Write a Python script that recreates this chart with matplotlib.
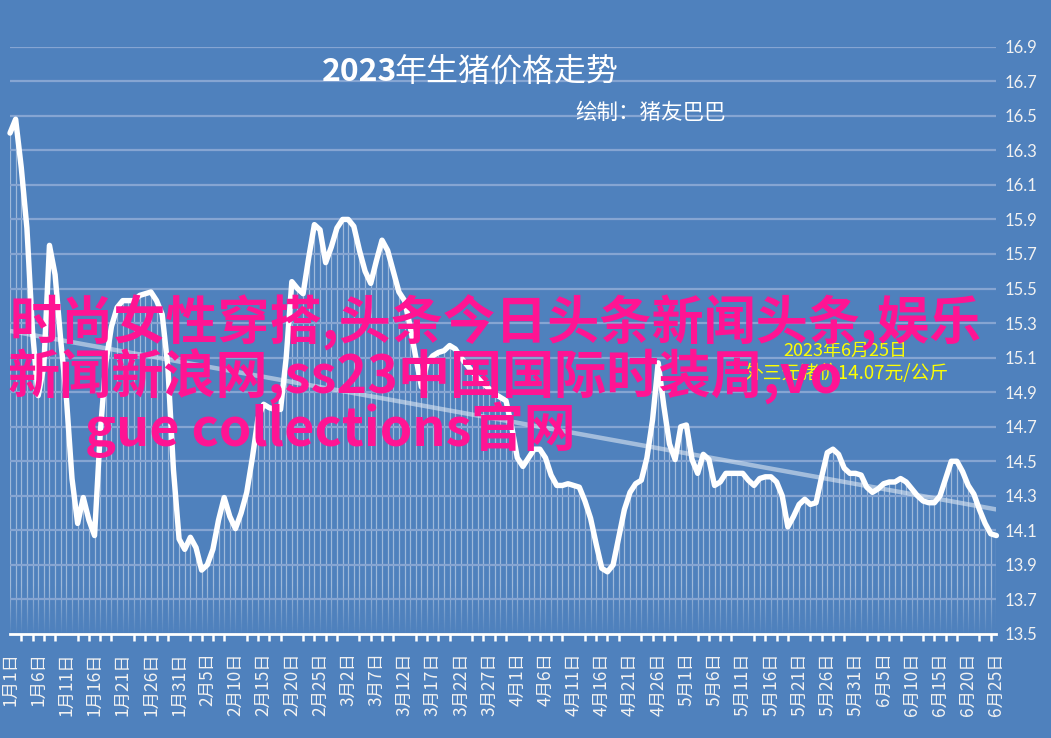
import numpy as np
import pandas as pd
import matplotlib
matplotlib.use("Agg")
import matplotlib.pyplot as plt
from matplotlib.colors import to_rgb

plt.rcParams["font.family"] = ["Noto Sans CJK SC", "DejaVu Sans"]

# daily price data, 2023-01-01 .. 2023-06-25 (yuan/kg)
dates = pd.date_range("2023-01-01", "2023-06-25", freq="D")
prices = [
    16.40, 16.48, 16.20, 15.85, 15.25, 14.88, 15.05, 15.75, 15.58, 15.20,
    14.87, 14.40, 14.14, 14.29, 14.16, 14.07, 14.66, 15.07, 15.28, 15.39,
    15.43, 15.43, 15.43, 15.46, 15.47, 15.48, 15.43, 15.35, 15.05, 14.45,
    14.05, 13.99, 14.06, 14.00, 13.87, 13.90, 13.99, 14.16, 14.29, 14.18,
    14.11, 14.20, 14.32, 14.52, 14.75, 14.83, 14.81, 14.80, 14.80, 15.10,
    15.54, 15.50, 15.47, 15.68, 15.87, 15.84, 15.65, 15.74, 15.85, 15.90,
    15.90, 15.86, 15.72, 15.60, 15.53, 15.66, 15.78, 15.72, 15.60, 15.48,
    15.43, 15.28, 15.10, 14.93, 15.07, 15.11, 15.13, 15.14, 15.17, 15.15,
    15.10, 15.06, 15.02, 14.98, 14.95, 14.92, 14.89, 14.87, 14.85, 14.70,
    14.52, 14.47, 14.52, 14.57, 14.57, 14.52, 14.42, 14.36, 14.36, 14.37,
    14.36, 14.35, 14.27, 14.17, 14.02, 13.88, 13.86, 13.90, 14.06, 14.22,
    14.32, 14.37, 14.39, 14.52, 14.74, 15.07, 14.82, 14.60, 14.51, 14.70,
    14.71, 14.51, 14.43, 14.54, 14.51, 14.36, 14.38, 14.43, 14.43, 14.43,
    14.43, 14.39, 14.36, 14.40, 14.41, 14.41, 14.38, 14.30, 14.12, 14.18,
    14.25, 14.28, 14.25, 14.26, 14.41, 14.55, 14.57, 14.54, 14.46, 14.43,
    14.43, 14.42, 14.35, 14.32, 14.34, 14.37, 14.38, 14.38, 14.40, 14.38,
    14.34, 14.30, 14.27, 14.26, 14.26, 14.30, 14.40, 14.50, 14.50, 14.44,
    14.36, 14.31, 14.22, 14.14, 14.08, 14.07,
]
y_ticks = [13.5, 13.7, 13.9, 14.1, 14.3, 14.5, 14.7, 14.9, 15.1, 15.3,
           15.5, 15.7, 15.9, 16.1, 16.3, 16.5, 16.7, 16.9]
label_days = list(range(0, len(dates), 5))
x_labels = [f"{dates[i].month}月{dates[i].day}日" for i in label_days]

title_year = "2023"
title_rest = "年生猪价格走势"
subtitle = "绘制：猪友巴巴"
note_lines = ["2023年6月25日", "外三元猪价14.07元/公斤"]
overlay_lines = ["时尚女性穿搭,头条今日头条新闻头条,娱乐",
                 "新闻新浪网,ss23中国国际时装周,vo",
                 "gue collections官网"]

BG = "#4f81bd"
GRID = "#86a5d2"
W, H = 1051, 738

fig = plt.figure(figsize=(W / 100, H / 100), dpi=100, facecolor=BG)
ax = fig.add_axes([10 / W, (H - 634) / H, 986.4 / W, (634 - 46.7) / H])
ax.set_facecolor(BG)

x = np.arange(len(prices))
y = np.array(prices)
ax.set_xlim(0, len(prices) - 1)
ax.set_ylim(13.5, 16.9)

# drop lines
ax.vlines(x, 13.5, y, color="white", lw=0.9, alpha=0.45, zorder=2)

# fade of the drop lines near the axis
r, g, b = to_rgb(BG)
grad = np.zeros((64, 2, 4))
grad[..., 0], grad[..., 1], grad[..., 2] = r, g, b
grad[..., 3] = np.linspace(0, 1, 64)[:, None] ** 1.2
ax.imshow(grad, extent=(0, len(prices) - 1, 13.5, 13.78), origin="upper",
          aspect="auto", zorder=2.2, interpolation="bilinear")

for v in y_ticks[1:]:
    ax.axhline(v, color=GRID, lw=1.6, zorder=2.5)

# linear trend
coef = np.polyfit(x, y, 1)
ax.plot(x, np.polyval(coef, x), color="#dce6f2", lw=3.2, alpha=0.6,
        zorder=3, solid_capstyle="butt")

ax.plot(x, y, color="white", lw=3.9, zorder=4, solid_joinstyle="round",
        solid_capstyle="round", clip_on=False)

for s in ["top", "left", "right"]:
    ax.spines[s].set_visible(False)
ax.spines["bottom"].set_color("white")
ax.spines["bottom"].set_linewidth(2)
ax.spines["bottom"].set_zorder(5)

ax.yaxis.tick_right()
ax.set_yticks(y_ticks)
ax.set_yticklabels([f"{v:.1f}" for v in y_ticks], family="Lato",
                   fontsize=12, color="#f2f2f2")
ax.tick_params(axis="y", length=0, pad=6)

ax.set_xticks(label_days)
ax.set_xticklabels(x_labels, rotation=90, fontsize=12.5, color="#f2f2f2")
ax.set_xticks(range(0, len(prices), 2), minor=True)
ax.tick_params(axis="x", which="major", length=0, pad=13)
ax.tick_params(axis="x", which="minor", length=5, width=1.8,
               color="white", direction="out")

fig.text(322 / W, 1 - 72 / H, title_year, fontsize=23, color="white",
         weight="bold", ha="left", va="center")
fig.text(394 / W, 1 - 72 / H, title_rest, fontsize=23, color="white",
         ha="left", va="center")
fig.text(575 / W, 1 - 113 / H, subtitle, fontsize=15.5, color="white",
         ha="left", va="center")

fig.text(845 / W, 1 - 351 / H, note_lines[0], fontsize=13, color="#ffff00",
         ha="center", va="center")
fig.text(846 / W, 1 - 374 / H, note_lines[1], fontsize=13.5, color="#ffff00",
         ha="center", va="center")

for txt, px, py in zip(overlay_lines, [10, 8, 85], [323, 377, 430]):
    fig.text(px / W, 1 - py / H, txt, fontsize=37.5, color="#ff1493",
             weight="bold", ha="left", va="center")

fig.savefig("out.png", dpi=100, facecolor=BG)
